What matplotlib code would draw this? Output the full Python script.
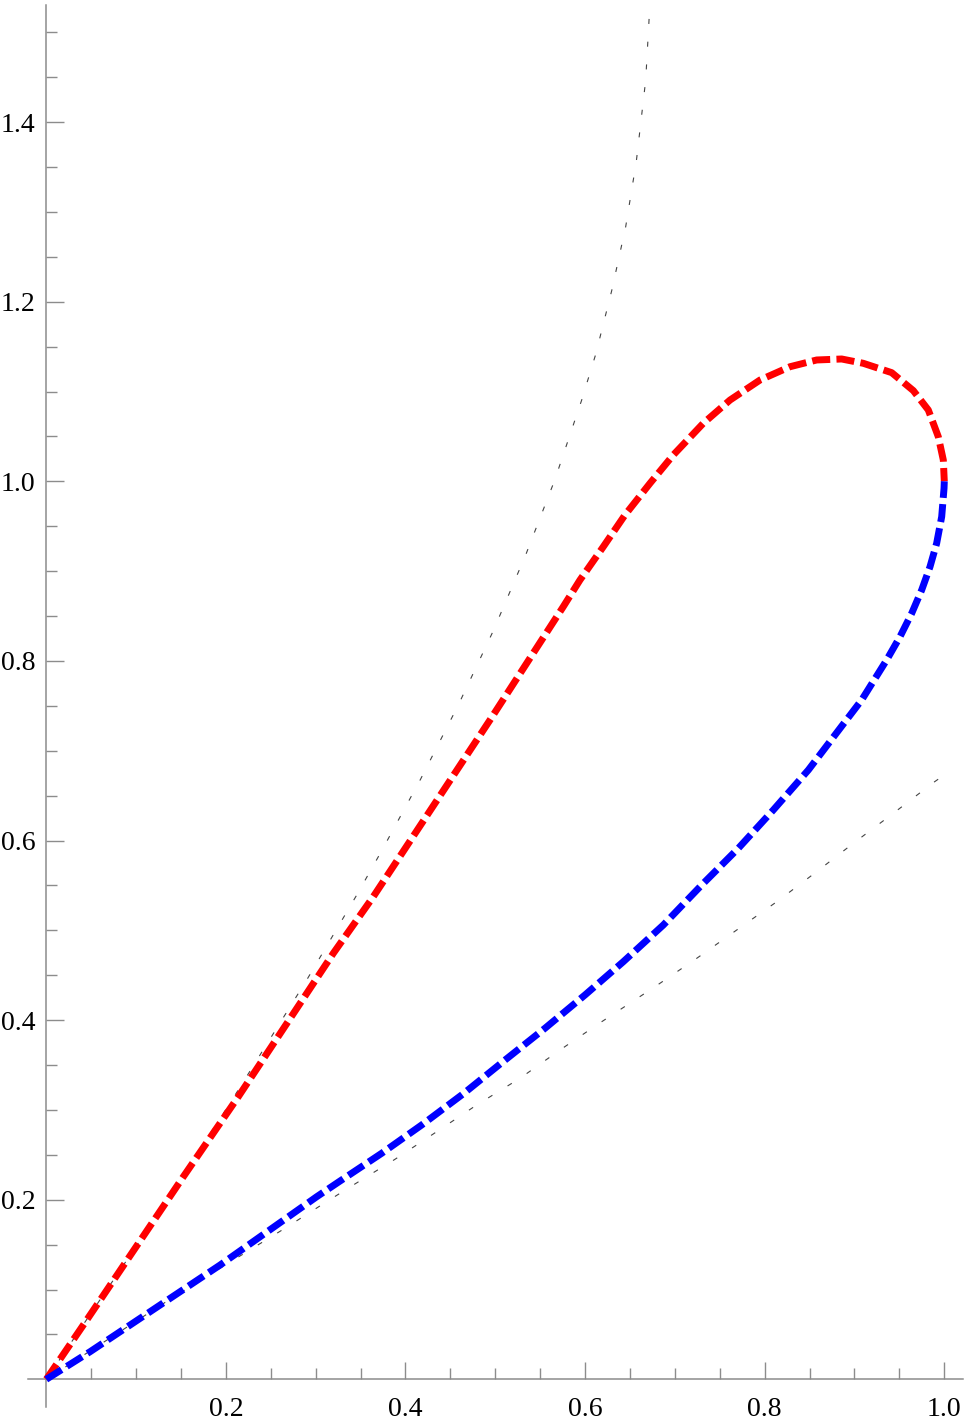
import numpy as np
import matplotlib.pyplot as plt
from matplotlib.ticker import FixedLocator

# values
red_x = [0.0, 0.045, 0.1526, 0.2138, 0.3196, 0.3641, 0.4941, 0.5757, 0.5943, 0.6203,
         0.6444, 0.6723, 0.6982, 0.7316, 0.7614, 0.7948, 0.8282, 0.8579, 0.8857,
         0.9098, 0.9414, 0.9655, 0.9822, 0.9933, 0.9989, 1.0]
red_y = [0.0, 0.066, 0.2256, 0.3147, 0.4744, 0.5374, 0.7342, 0.8604, 0.8901, 0.9272,
         0.9625, 0.9978, 1.0293, 1.0646, 1.0905, 1.1128, 1.1276, 1.1351, 1.1362,
         1.1314, 1.1210, 1.1010, 1.0794, 1.0497, 1.0237, 1.0]

blue_x = [0.0, 0.0487, 0.1936, 0.3011, 0.3271, 0.3735, 0.4180, 0.4644, 0.5108, 0.5553,
          0.5999, 0.6425, 0.6871, 0.7298, 0.7706, 0.8096, 0.8486, 0.8839, 0.9080,
          0.9358, 0.9507, 0.9637, 0.9748, 0.9841, 0.9915, 0.9971, 0.9997, 1.0]
blue_y = [0.0, 0.0307, 0.1273, 0.2033, 0.2208, 0.2517, 0.2832, 0.3180, 0.3555, 0.3909,
          0.4280, 0.4650, 0.5059, 0.5504, 0.5913, 0.6340, 0.6785, 0.7249, 0.7565,
          0.8010, 0.8270, 0.8530, 0.8789, 0.9049, 0.9310, 0.9606, 0.9922, 1.0]

upper_x = [0.0, 0.1, 0.2045, 0.2900, 0.3457, 0.3735, 0.4169, 0.4588, 0.4978, 0.5338,
           0.5662, 0.5962, 0.6118, 0.6296, 0.6452, 0.6570, 0.6675, 0.6715]
upper_y = [0.0, 0.148, 0.3073, 0.4447, 0.5393, 0.5886, 0.6685, 0.7509, 0.8336, 0.9179,
           1.0014, 1.0905, 1.1414, 1.2122, 1.2835, 1.3559, 1.4469, 1.5193]

lower_x = [0.0, 0.1414, 0.2658, 0.3122, 0.3419, 0.3883, 0.4347, 0.4793, 0.5275, 0.5720,
           0.6147, 0.6778, 0.7243, 0.7688, 0.8134, 0.8579, 0.8987, 0.9432, 0.9877, 1.0]
lower_y = [0.0, 0.0915, 0.1682, 0.1978, 0.2164, 0.2450, 0.2757, 0.3055, 0.3352, 0.3667,
           0.3957, 0.4372, 0.4688, 0.5003, 0.5318, 0.5653, 0.5969, 0.6303, 0.6644, 0.673]

x_major = [0.2, 0.4, 0.6, 0.8, 1.0]
y_major = [0.2, 0.4, 0.6, 0.8, 1.0, 1.2, 1.4]

plt.rcParams['font.family'] = ['Liberation Serif', 'DejaVu Serif']

fig = plt.figure(figsize=(9.67, 14.23), dpi=100)
ax = fig.add_axes([0, 0, 1, 1])

# dotted guide curves
ax.plot(upper_x, upper_y, color='#444444', lw=0.8, ls=(0, (4.5, 16)), zorder=2)
ax.plot(lower_x, lower_y, color='#444444', lw=0.8, ls=(0, (4.5, 16)), zorder=2)

# loop
ax.plot(red_x, red_y, color='#ff0000', lw=5.0, ls=(0, (2.6, 0.9)),
        dash_capstyle='butt', solid_joinstyle='round', zorder=3)
ax.plot(blue_x, blue_y, color='#0000ff', lw=5.0, ls=(0, (2.6, 0.9)),
        dash_capstyle='butt', solid_joinstyle='round', zorder=3)

# pixel-matched plot range, equal scale on both axes
ax.set_xlim(-0.05156, 1.02528)
ax.set_ylim(-0.04866, 1.53597)

for side in ['top', 'right']:
    ax.spines[side].set_visible(False)
for side in ['left', 'bottom']:
    ax.spines[side].set_position(('data', 0))
    ax.spines[side].set_color('#8c8c8c')
    ax.spines[side].set_linewidth(1.1)
ax.spines['bottom'].set_bounds(-0.02, 1.0205)
ax.spines['left'].set_bounds(-0.0305, 1.530)

ax.xaxis.set_major_locator(FixedLocator(x_major))
ax.yaxis.set_major_locator(FixedLocator(y_major))
ax.xaxis.set_minor_locator(FixedLocator([v for v in np.arange(1, 21) * 0.05
                                         if round(v * 100) % 20]))
ax.yaxis.set_minor_locator(FixedLocator([v for v in np.arange(1, 31) * 0.05
                                         if round(v * 100) % 20]))
ax.set_xticklabels([f"{v:.1f}" for v in x_major])
ax.set_yticklabels([f"{v:.1f}" for v in y_major])

ax.tick_params(which='both', direction='in', color='#8c8c8c', width=1.0,
               labelsize=20, labelcolor='black')
ax.tick_params(which='major', length=12.6)
ax.tick_params(which='minor', length=7.7)
ax.tick_params(axis='x', which='major', pad=13)
ax.tick_params(axis='y', which='major', pad=8)

plt.savefig("out.png", dpi=100)
